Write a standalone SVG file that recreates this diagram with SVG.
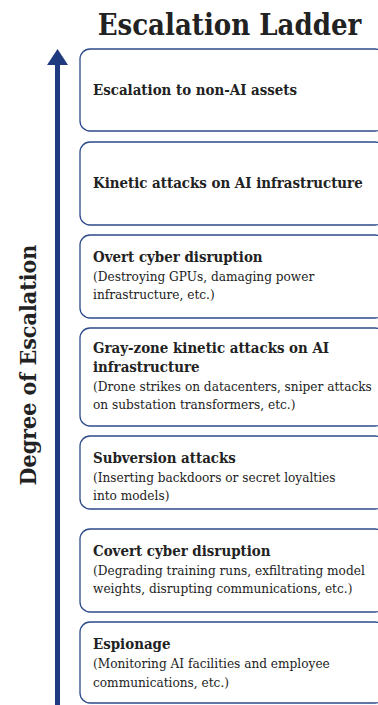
<svg xmlns="http://www.w3.org/2000/svg" width="378" height="705" viewBox="0 0 378 705">
  <style>
    text { font-family: "DejaVu Serif Condensed", "DejaVu Serif", serif; font-stretch: condensed; fill: #222; }
    .title { font-size: 29px; font-weight: bold; }
    .axis { font-size: 23px; font-weight: bold; }
    .head { font-size: 14.9px; font-weight: bold; }
    .sub { font-size: 13.5px; }
    .box { fill: #fff; stroke: #2d4a8b; stroke-width: 1.3; }
  </style>
  <rect width="378" height="705" fill="#fff"/>

  <text class="title" x="229.5" y="35" text-anchor="middle">Escalation Ladder</text>

  <!-- vertical axis: arrow pointing up, label reading bottom to top -->
  <g id="axis">
    <line x1="57.5" y1="62" x2="57.5" y2="705" stroke="#1f3a7f" stroke-width="5"/>
    <polygon points="57.5,49 68,65 47,65" fill="#1f3a7f"/>
    <text class="axis" transform="translate(36,365) rotate(-90)" text-anchor="middle">Degree of Escalation</text>
  </g>

  <!-- ladder steps, highest first; boxes run past the right edge -->
  <g id="step-7">
    <rect class="box" x="80" y="49" width="305" height="82" rx="10"/>
    <text class="head" x="93" y="95">Escalation to non-AI assets</text>
  </g>
  <g id="step-6">
    <rect class="box" x="80" y="142" width="305" height="83" rx="10"/>
    <text class="head" x="93" y="188">Kinetic attacks on AI infrastructure</text>
  </g>
  <g id="step-5">
    <rect class="box" x="80" y="235" width="305" height="83" rx="10"/>
    <text class="head" x="93" y="262">Overt cyber disruption</text>
    <text class="sub" x="93" y="281">(Destroying GPUs, damaging power</text>
    <text class="sub" x="93" y="299">infrastructure, etc.)</text>
  </g>
  <g id="step-4">
    <rect class="box" x="80" y="328" width="305" height="98" rx="10"/>
    <text class="head" x="93" y="353">Gray-zone kinetic attacks on AI</text>
    <text class="head" x="93" y="372">infrastructure</text>
    <text class="sub" x="93" y="391">(Drone strikes on datacenters, sniper attacks</text>
    <text class="sub" x="93" y="409">on substation transformers, etc.)</text>
  </g>
  <g id="step-3">
    <rect class="box" x="80" y="436" width="305" height="73" rx="10"/>
    <text class="head" x="93" y="463">Subversion attacks</text>
    <text class="sub" x="93" y="482">(Inserting backdoors or secret loyalties</text>
    <text class="sub" x="93" y="500">into models)</text>
  </g>
  <g id="step-2">
    <rect class="box" x="80" y="529" width="305" height="83" rx="10"/>
    <text class="head" x="93" y="556">Covert cyber disruption</text>
    <text class="sub" x="93" y="575">(Degrading training runs, exfiltrating model</text>
    <text class="sub" x="93" y="593">weights, disrupting communications, etc.)</text>
  </g>
  <g id="step-1">
    <rect class="box" x="80" y="622" width="305" height="81" rx="10"/>
    <text class="head" x="93" y="649">Espionage</text>
    <text class="sub" x="93" y="668">(Monitoring AI facilities and employee</text>
    <text class="sub" x="93" y="687">communications, etc.)</text>
  </g>
</svg>
